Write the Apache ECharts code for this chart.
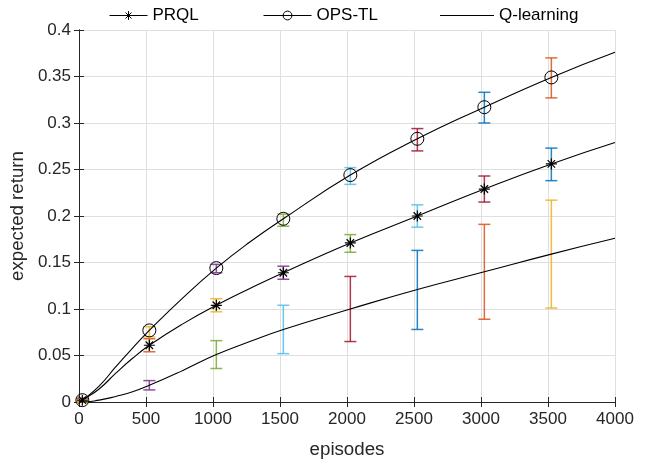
<!DOCTYPE html>
<html>
<head>
<meta charset="utf-8">
<script src="https://cdn.jsdelivr.net/npm/echarts@6/dist/echarts.min.js"></script>
<style>
html,body{margin:0;padding:0;background:#fff;}
#c{width:649px;height:464px;}
</style>
</head>
<body>
<div id="c"></div>
<script>
// ---- data ----
var markerEpisodes = [25, 525, 1025, 1525, 2025, 2525, 3025, 3525];

var prqlMean = [0.002, 0.061, 0.104, 0.139, 0.171, 0.200, 0.229, 0.256];
var prqlLow  = [0.000, 0.054, 0.097, 0.132, 0.161, 0.188, 0.215, 0.238];
var prqlHigh = [0.004, 0.068, 0.111, 0.146, 0.180, 0.212, 0.243, 0.273];

var opsMean = [0.002, 0.077, 0.144, 0.197, 0.244, 0.283, 0.317, 0.349];
var opsLow  = [0.000, 0.070, 0.139, 0.189, 0.234, 0.270, 0.300, 0.327];
var opsHigh = [0.004, 0.081, 0.148, 0.202, 0.252, 0.294, 0.333, 0.370];

var qMean = [0.000, 0.018, 0.051, 0.078, 0.100, 0.121, 0.140, 0.159];
var qLow  = [0.000, 0.013, 0.036, 0.052, 0.065, 0.078, 0.089, 0.101];
var qHigh = [0.001, 0.023, 0.066, 0.104, 0.135, 0.163, 0.191, 0.217];

// smooth curves
var curveX    = [0, 25, 150, 275, 400, 525, 775, 1025, 1275, 1525, 2025, 2525, 3025, 3525, 4000];
var prqlCurve = [0, 0.002, 0.014, 0.031, 0.047, 0.061, 0.084, 0.104, 0.122, 0.139, 0.171, 0.200, 0.229, 0.256, 0.279];
var opsCurve  = [0, 0.002, 0.017, 0.038, 0.058, 0.077, 0.112, 0.144, 0.172, 0.197, 0.244, 0.283, 0.317, 0.349, 0.376];
var qCurve    = [0, 0.000, 0.002, 0.006, 0.011, 0.018, 0.034, 0.051, 0.065, 0.078, 0.100, 0.121, 0.140, 0.159, 0.176];

var seriesNames = ['PRQL', 'OPS-TL', 'Q-learning'];

// MATLAB default colour order
var palette = ['#0072BD', '#D95319', '#EDB120', '#7E2F8E', '#77AC30', '#4DBEEE', '#A2142F'];

var FONT = '"Liberation Sans", Arial, Helvetica, sans-serif';
var TXT = '#262626';
var asterisk = 'path://M5,0L5,10M0,5L10,5M1.6,1.6L8.4,8.4M1.6,8.4L8.4,1.6';

function curveData(curve, sym) {
  return curveX.map(function (x, i) {
    var isMarker = markerEpisodes.indexOf(x) >= 0;
    return { value: [x, curve[i]], symbol: (sym && isMarker) ? sym : 'none' };
  });
}

function errData(low, high, startIdx) {
  return markerEpisodes.map(function (x, i) {
    return [x, low[i], high[i], (startIdx + i) % palette.length];
  });
}

function renderErr(params, api) {
  var x = api.value(0);
  var lo = api.coord([x, api.value(1)]);
  var hi = api.coord([x, api.value(2)]);
  var col = palette[api.value(3)];
  var w = 6;
  var st = { stroke: col, lineWidth: 1.5, opacity: 0.85 };
  return {
    type: 'group',
    children: [
      { type: 'line', shape: { x1: lo[0], y1: lo[1], x2: hi[0], y2: hi[1] }, style: st },
      { type: 'line', shape: { x1: lo[0] - w, y1: lo[1], x2: lo[0] + w, y2: lo[1] }, style: st },
      { type: 'line', shape: { x1: hi[0] - w, y1: hi[1], x2: hi[0] + w, y2: hi[1] }, style: st }
    ]
  };
}

var errSeries = function (name, low, high, start) {
  return {
    type: 'custom', name: name + '-err', renderItem: renderErr,
    data: errData(low, high, start), z: 1, silent: true,
    encode: { x: 0, y: [1, 2] }
  };
};

var chart = echarts.init(document.getElementById('c'), null, { renderer: 'canvas' });

var axisCommon = {
  axisLine: { show: true, lineStyle: { color: TXT, width: 1 } },
  axisTick: { show: true, inside: true, length: 5, lineStyle: { color: TXT } }
};

function legendAt(left, item, w) {
  return {
    left: left, top: 2, itemWidth: w, itemHeight: 11, itemGap: 0,
    data: [item],
    lineStyle: { width: 1 },
    itemStyle: { borderWidth: 1 },
    textStyle: { fontFamily: FONT, fontSize: 17, color: '#000' },
    selectedMode: false
  };
}

var option = {
  backgroundColor: '#fff',
  animation: false,
  textStyle: { fontFamily: FONT },
  legend: [
    legendAt(104, seriesNames[0], 38),
    legendAt(258, seriesNames[1], 48),
    legendAt(435, { name: seriesNames[2], icon: 'path://M0,0L52,0L52,1L0,1Z', itemStyle: { color: '#000', borderWidth: 0 } }, 54)
  ],
  grid: { left: 78, right: 34, top: 30, bottom: 58, containLabel: false },
  xAxis: [
    Object.assign({
      type: 'value', min: 0, max: 4000, interval: 500, position: 'bottom',
      name: 'episodes', nameLocation: 'middle', nameGap: 38,
      nameTextStyle: { fontFamily: FONT, fontSize: 18.7, color: TXT },
      axisLabel: { fontFamily: FONT, fontSize: 17, color: TXT, margin: 9,
        formatter: function (v) { return String(v); } },
      splitLine: { show: true, lineStyle: { color: '#dfdfdf', width: 1 } }
    }, axisCommon),
    Object.assign({
      type: 'value', min: 0, max: 4000, interval: 500, position: 'top',
      axisLabel: { show: false }, splitLine: { show: false }
    }, axisCommon)
  ],
  yAxis: [
    Object.assign({
      type: 'value', min: 0, max: 0.4, interval: 0.05, position: 'left',
      name: 'expected return', nameLocation: 'middle', nameGap: 44, nameRotate: 90,
      nameTextStyle: { fontFamily: FONT, fontSize: 18.7, color: TXT },
      axisLabel: {
        fontFamily: FONT, fontSize: 17, color: TXT, margin: 8,
        formatter: function (v) { return String(+v.toFixed(2)); }
      },
      splitLine: { show: true, lineStyle: { color: '#dfdfdf', width: 1 } }
    }, axisCommon),
    Object.assign({
      type: 'value', min: 0, max: 0.4, interval: 0.05, position: 'right',
      axisLabel: { show: false }, splitLine: { show: false }
    }, axisCommon)
  ],
  series: [
    errSeries('PRQL', prqlLow, prqlHigh, 0),
    errSeries('OPS-TL', opsLow, opsHigh, 1),
    errSeries('Q-learning', qLow, qHigh, 2),
    {
      type: 'line', name: seriesNames[0], data: curveData(prqlCurve, asterisk),
      smooth: 0.5, symbol: asterisk, symbolSize: 11, showAllSymbol: true,
      lineStyle: { color: '#000', width: 1.1 },
      itemStyle: { color: 'rgba(0,0,0,0)', borderColor: '#000', borderWidth: 1.2 },
      z: 3
    },
    {
      type: 'line', name: seriesNames[1], data: curveData(opsCurve, 'circle'),
      smooth: 0.5, symbol: 'circle', symbolSize: 13, showAllSymbol: true,
      lineStyle: { color: '#000', width: 1.1 },
      itemStyle: { color: 'rgba(0,0,0,0)', borderColor: '#000', borderWidth: 1 },
      z: 3
    },
    {
      type: 'line', name: seriesNames[2], data: curveData(qCurve, null),
      smooth: 0.5, symbol: 'none',
      lineStyle: { color: '#000', width: 1.1 },
      itemStyle: { color: '#000' },
      z: 3
    }
  ]
};
chart.setOption(option);
</script>
</body>
</html>
